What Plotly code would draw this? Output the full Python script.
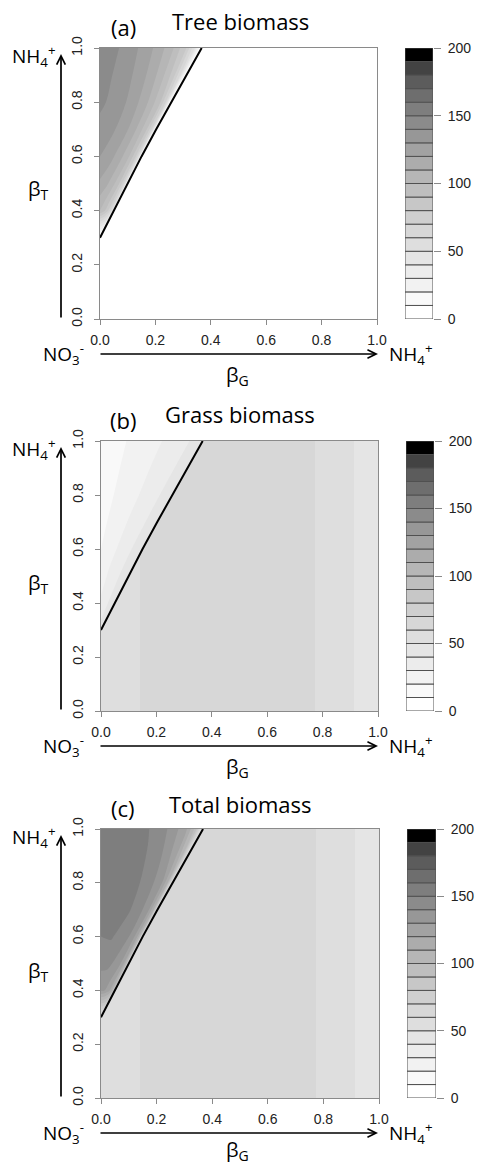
import numpy as np
import plotly.graph_objects as go

W, H = 477, 1165

# ---------------- data ----------------
# beta_T rows of the wedge grid, and position across the wedge
# (fraction of the distance from beta_G = 0 to the boundary curve)
BT_GRID = [0.3, 0.4, 0.5, 0.6, 0.7, 0.8, 0.9, 1.0]
S_GRID = [0.0, 0.25, 0.5, 0.7, 0.85, 0.93, 1.0]
# boundary curve (black line): beta_G at each beta_T of BT_GRID
BOUND_G = [0.0, 0.050, 0.099, 0.150, 0.203, 0.257, 0.312, 0.367]

# tree biomass inside the wedge (rows = BT_GRID, cols = S_GRID)
TREE = [
    [0, 0, 0, 0, 0, 0, 0],
    [100, 94, 85, 74, 58, 40, 0],
    [118, 112, 102, 90, 74, 52, 0],
    [130, 124, 113, 100, 83, 60, 0],
    [137, 131, 120, 106, 88, 66, 0],
    [142, 136, 123, 108, 90, 68, 0],
    [144, 137, 123, 106, 85, 60, 0],
    [146, 138, 122, 104, 80, 52, 0],
]
# grass biomass inside the wedge
GRASS = [
    [45, 45, 45, 45, 45, 45, 45],
    [32, 36, 40, 43, 45, 46, 47],
    [25, 31, 36, 41, 44, 46, 47],
    [20, 27, 33, 39, 43, 45, 47],
    [17, 24, 31, 37, 42, 45, 47],
    [15, 22, 29, 35, 41, 44, 47],
    [13, 21, 28, 34, 40, 44, 47],
    [12, 20, 27, 33, 39, 43, 47],
]
# region right of / below the boundary: vertical bands in beta_G
BAND_EDGES = [0.0, 0.14, 0.773, 0.915, 1.0]
TREE_BANDS = [0, 0, 0, 0]
GRASS_BANDS = [55, 65, 55, 45]

LEVELS = list(range(0, 201, 10))
X_TICKS = [0.0, 0.2, 0.4, 0.6, 0.8, 1.0]
X_TICKTEXT = ["0.0", "0.2", "0.4", "0.6", "0.8", "1.0"]
CB_TICKS = [0, 50, 100, 150, 200]

TOTAL = (np.array(TREE) + np.array(GRASS)).tolist()
TOTAL_BANDS = [t + g for t, g in zip(TREE_BANDS, GRASS_BANDS)]

# ---------------- style ----------------
nb = len(LEVELS) - 1
COLORS = []
for j in range(nb):
    v = int(round(255 * ((nb - 1 - j) / (nb - 1)) ** (1 / 2.2)))
    COLORS.append(f"rgb({v},{v},{v})")
CSCALE = []
for j, c in enumerate(COLORS):
    CSCALE.append([j / nb, c])
    CSCALE.append([(j + 1) / nb, c])

TXT_FONT = "Open Sans"
TICK_FONT = "Liberation Sans"
AX_GRAY = "#8a8a8a"

panels = [
    dict(tag="(a)", title="Tree biomass", wedge=TREE, bands=TREE_BANDS,
         top=48, bottom=319, left=100, right=377, cbl=405, cbr=433, tdy=27, gdy=56),
    dict(tag="(b)", title="Grass biomass", wedge=GRASS, bands=GRASS_BANDS,
         top=441, bottom=711, left=101, right=378, cbl=406, cbr=434, tdy=27, gdy=56),
    dict(tag="(c)", title="Total biomass", wedge=TOTAL, bands=TOTAL_BANDS,
         top=829, bottom=1098, left=101, right=379, cbl=407, cbr=436, tdy=25, gdy=52),
]

fig = go.Figure()
annotations = []


def txt(x, y, s, size, font=TXT_FONT):
    annotations.append(dict(x=x / W, y=1 - y / H, xref="paper", yref="paper",
                            text=s, showarrow=False, xanchor="center",
                            yanchor="middle", font=dict(family=font, size=size, color="black")))


def arrow(x0, y0, x1, y1):
    annotations.append(dict(x=x1 / W, y=1 - y1 / H, xref="paper", yref="paper",
                            ax=x0 - x1, ay=y0 - y1, axref="pixel", ayref="pixel",
                            text="", showarrow=True, arrowhead=5, arrowsize=1.0,
                            arrowwidth=1.7, arrowcolor="black", standoff=0, startstandoff=0))


layout_axes = {}
X2 = [[s * bg for s in S_GRID] for bg in BOUND_G]
Y2 = [[bt for _ in S_GRID] for bt in BT_GRID]
car_axis = dict(showgrid=False, showline=False, showticklabels="none",
                startline=False, endline=False, minorgridcount=0, smoothing=0,
                tickmode="linear", tick0=0, dtick=100)

for k, p in enumerate(panels):
    ni = 2 * k + 1
    xa = "x" if ni == 1 else f"x{ni}"
    ya = "y" if ni == 1 else f"y{ni}"
    xc, yc = f"x{ni + 1}", f"y{ni + 1}"
    xdom = [p["left"] / W, p["right"] / W]
    ydom = [1 - p["bottom"] / H, 1 - p["top"] / H]

    fig.add_trace(go.Heatmap(x=BAND_EDGES, y=[0, 1], z=[p["bands"]], colorscale=CSCALE,
                             zmin=0, zmax=200, showscale=False, xaxis=xa, yaxis=ya,
                             hoverinfo="skip"))
    cid = f"carpet{k}"
    fig.add_trace(go.Carpet(a=S_GRID, b=BT_GRID, x=X2, y=Y2, carpet=cid,
                            aaxis=car_axis, baxis=car_axis, xaxis=xa, yaxis=ya))
    fig.add_trace(go.Contourcarpet(a=S_GRID, b=BT_GRID, z=p["wedge"], carpet=cid,
                                   colorscale=CSCALE, zmin=0, zmax=200, autocontour=False,
                                   contours=dict(start=0, end=200, size=10, coloring="fill",
                                                 showlines=False),
                                   line=dict(width=0), showscale=False,
                                   xaxis=xa, yaxis=ya))
    fig.add_trace(go.Scatter(x=BOUND_G, y=BT_GRID, mode="lines",
                             line=dict(color="black", width=2), xaxis=xa, yaxis=ya,
                             showlegend=False, hoverinfo="skip"))
    # colour key
    fig.add_trace(go.Bar(x=[0] * nb, y=list(np.diff(LEVELS)), base=LEVELS[:-1], width=1,
                         marker=dict(color=COLORS, line=dict(color="#505050", width=1)),
                         xaxis=xc, yaxis=yc, showlegend=False, hoverinfo="skip"))

    sfx = "" if ni == 1 else str(ni)
    layout_axes["xaxis" + sfx] = dict(domain=xdom, range=[0, 1], anchor=ya,
                                      tickvals=X_TICKS, ticktext=X_TICKTEXT, ticks="outside",
                                      ticklen=5, tickcolor=AX_GRAY, showline=True, mirror=True,
                                      linecolor=AX_GRAY, linewidth=1, showgrid=False,
                                      zeroline=False, ticklabelstandoff=3,
                                      tickfont=dict(family=TICK_FONT, size=14, color="#222"))
    layout_axes["yaxis" + sfx] = dict(domain=ydom, range=[0, 1], anchor=xa,
                                      tickvals=X_TICKS, ticktext=X_TICKTEXT, ticks="outside",
                                      ticklen=5, tickcolor=AX_GRAY, showline=True, mirror=True,
                                      linecolor=AX_GRAY, linewidth=1, showgrid=False,
                                      zeroline=False, tickangle=-90, ticklabelstandoff=6,
                                      tickfont=dict(family=TICK_FONT, size=14, color="#222"))
    layout_axes[f"xaxis{ni + 1}"] = dict(domain=[p["cbl"] / W, p["cbr"] / W], range=[-0.5, 0.5],
                                         anchor=yc, visible=False, fixedrange=True)
    layout_axes[f"yaxis{ni + 1}"] = dict(domain=ydom, range=[0, 200], anchor=xc, side="right",
                                         tickvals=CB_TICKS, ticks="outside", ticklen=7,
                                         tickcolor=AX_GRAY, showline=False, showgrid=False,
                                         zeroline=False, ticklabelstandoff=4,
                                         tickfont=dict(family=TICK_FONT, size=14, color="#222"))

    T, B = p["top"], p["bottom"]
    txt(123, T - 21, p["tag"], 22)
    txt(240, T - p["tdy"], p["title"], 22)
    txt(34, T + 8, "NH<sub>4</sub><sup>+</sup>", 19)
    arrow(61, B, 61, T + 6)
    txt(38, T + 142, "β<sub>T</sub>", 20)
    arrow(99, B + 35, 378, B + 35)
    txt(63, B + 35, "NO<sub>3</sub><sup>-</sup>", 19)
    txt(411, B + 35, "NH<sub>4</sub><sup>+</sup>", 19)
    txt(237, B + p["gdy"], "β<sub>G</sub>", 20)

fig.update_layout(width=W, height=H, autosize=False,
                  margin=dict(l=0, r=0, t=0, b=0, pad=0, autoexpand=False),
                  paper_bgcolor="white", plot_bgcolor="white",
                  showlegend=False, annotations=annotations, **layout_axes)

fig.write_html("out.html", config={"displayModeBar": False, "staticPlot": True},
               post_script="document.body.style.margin='0';document.body.style.padding='0';"
                           "document.body.style.overflow='hidden';")
